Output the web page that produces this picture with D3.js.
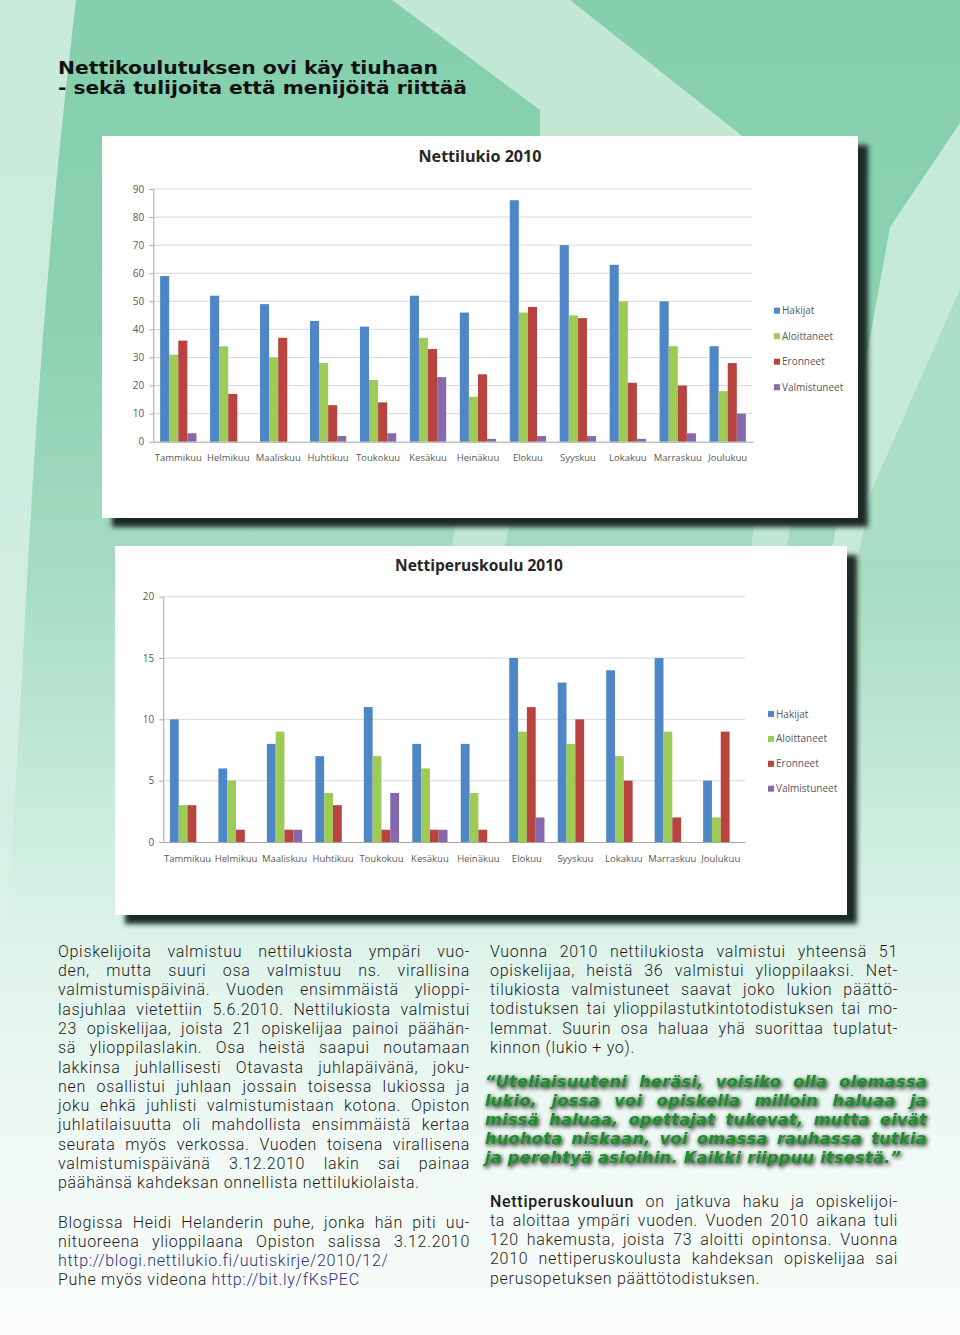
<!DOCTYPE html>
<html>
<head>
<meta charset="utf-8">
<script src="https://cdn.jsdelivr.net/npm/d3@7"></script>
<style>
html, body { margin: 0; padding: 0; background: #fff; }
svg { display: block; }
</style>
</head>
<body>
<svg id="page" width="960" height="1335"></svg>
<script>
// ---- chart data ----
var months = ["Tammikuu", "Helmikuu", "Maaliskuu", "Huhtikuu", "Toukokuu", "Kesäkuu",
              "Heinäkuu", "Elokuu", "Syyskuu", "Lokakuu", "Marraskuu", "Joulukuu"];
var seriesNames = ["Hakijat", "Aloittaneet", "Eronneet", "Valmistuneet"];
var seriesColors = ["#4f86c6", "#9dcb56", "#b8433f", "#8669ad"];

var lukioHakijat      = [59, 52, 49, 43, 41, 52, 46, 86, 70, 63, 50, 34];
var lukioAloittaneet  = [31, 34, 30, 28, 22, 37, 16, 46, 45, 50, 34, 18];
var lukioEronneet     = [36, 17, 37, 13, 14, 33, 24, 48, 44, 21, 20, 28];
var lukioValmistuneet = [3, 0, 0, 2, 3, 23, 1, 2, 2, 1, 3, 10];
var lukioTicks = [0, 10, 20, 30, 40, 50, 60, 70, 80, 90];

var peruskouluHakijat      = [10, 6, 8, 7, 11, 8, 8, 15, 13, 14, 15, 5];
var peruskouluAloittaneet  = [3, 5, 9, 4, 7, 6, 4, 9, 8, 7, 9, 2];
var peruskouluEronneet     = [3, 1, 1, 3, 1, 1, 1, 11, 10, 5, 2, 9];
var peruskouluValmistuneet = [0, 0, 1, 0, 4, 1, 0, 2, 0, 0, 0, 0];
var peruskouluTicks = [0, 5, 10, 15, 20];

// ---- article text, broken as in the printed page ----
var headline = ["Nettikoulutuksen ovi käy tiuhaan", "- sekä tulijoita että menijöitä riittää"];

var leftPara1 = [
    "Opiskelijoita valmistuu nettilukiosta ympäri vuo-",
    "den, mutta suuri osa valmistuu ns. virallisina",
    "valmistumispäivinä. Vuoden ensimmäistä ylioppi-",
    "lasjuhlaa vietettiin 5.6.2010. Nettilukiosta valmistui",
    "23 opiskelijaa, joista 21 opiskelijaa painoi päähän-",
    "sä ylioppilaslakin. Osa heistä saapui noutamaan",
    "lakkinsa juhlallisesti Otavasta juhlapäivänä, joku-",
    "nen osallistui juhlaan jossain toisessa lukiossa ja",
    "joku ehkä juhlisti valmistumistaan kotona. Opiston",
    "juhlatilaisuutta oli mahdollista ensimmäistä kertaa",
    "seurata myös verkossa. Vuoden toisena virallisena",
    "valmistumispäivänä 3.12.2010 lakin sai painaa",
    "päähänsä kahdeksan onnellista nettilukiolaista."
];
var leftPara2 = [
    "Blogissa Heidi Helanderin puhe, jonka hän piti uu-",
    "nituoreena ylioppilaana Opiston salissa 3.12.2010",
    "http://blogi.nettilukio.fi/uutiskirje/2010/12/",
    "Puhe myös videona http://bit.ly/fKsPEC"
];
var rightPara1 = [
    "Vuonna 2010 nettilukiosta valmistui yhteensä 51",
    "opiskelijaa, heistä 36 valmistui ylioppilaaksi. Net-",
    "tilukiosta valmistuneet saavat joko lukion päättö-",
    "todistuksen tai ylioppilastutkintotodistuksen tai mo-",
    "lemmat. Suurin osa haluaa yhä suorittaa tuplatut-",
    "kinnon (lukio + yo)."
];
var quoteLines = [
    "“Uteliaisuuteni heräsi, voisiko olla olemassa",
    "lukio, jossa voi opiskella milloin haluaa ja",
    "missä haluaa, opettajat tukevat, mutta eivät",
    "huohota niskaan, voi omassa rauhassa tutkia",
    "ja perehtyä asioihin. Kaikki riippuu itsestä.”"
];
var rightPara2 = [
    "*Nettiperuskouluun on jatkuva haku ja opiskelijoi-",
    "ta aloittaa ympäri vuoden. Vuoden 2010 aikana tuli",
    "120 hakemusta, joista 73 aloitti opintonsa. Vuonna",
    "2010 nettiperuskoulusta kahdeksan opiskelijaa sai",
    "perusopetuksen päättötodistuksen."
];

var chartFont = "'Open Sans', 'Noto Sans', sans-serif";
var bodyFont = "Roboto, 'Noto Sans', sans-serif";
var linkColor = "#2d2f86";

var svg = d3.select("#page");
var defs = svg.append("defs");


/*
 *** Background: green page with lighter diagonal bands
 */
var bg = defs.append("linearGradient").attr("id", "bgGrad")
    .attr("x1", 0).attr("y1", 0).attr("x2", 0).attr("y2", 1);
[[0, "#84cfad"], [0.25, "#8cd2b3"], [0.42, "#a4dbc2"], [0.6, "#c7ebdb"],
 [0.72, "#e0f4eb"], [0.86, "#f0f9f5"], [1, "#fafdfb"]].forEach(function(s){
    bg.append("stop").attr("offset", s[0]).attr("stop-color", s[1]);
});
var stripGrad = defs.append("linearGradient").attr("id", "stripGrad")
    .attr("x1", 0).attr("y1", 0).attr("x2", 0).attr("y2", 1);
stripGrad.append("stop").attr("offset", 0).attr("stop-color", "#c9eadb").attr("stop-opacity", 1);
stripGrad.append("stop").attr("offset", 0.7).attr("stop-color", "#d6f0e4").attr("stop-opacity", 0.9);
stripGrad.append("stop").attr("offset", 1).attr("stop-color", "#e8f6ef").attr("stop-opacity", 0);

svg.append("rect").attr("width", 960).attr("height", 1335).attr("fill", "url(#bgGrad)");

svg.append("path")
    .attr("d", "M0,0 L76,0 C62,120 42,300 26,600 C18,760 10,880 0,1000 Z")
    .attr("fill", "url(#stripGrad)");

var bands = [
    {pts: [[392, 0], [570, 0], [760, 150], [540, 150], [540, 110]], fill: "#c3e8d6"},
    {pts: [[890, 227], [960, 123], [960, 290], [872, 490], [858, 560], [830, 560]], fill: "#c6eada"},
    {pts: [[960, 290], [960, 560], [858, 560], [872, 490]], fill: "#abdec7"},
    {pts: [[456, 518], [511, 518], [505, 546], [452, 546]], fill: "#bde6d3"},
    {pts: [[755, 518], [792, 518], [787, 546], [751, 546]], fill: "#bde6d3"}
];
svg.append("g").selectAll("polygon").data(bands).join("polygon")
    .attr("points", function(d){ return d.pts.map(function(p){ return p.join(","); }).join(" "); })
    .attr("fill", function(d){ return d.fill; });


/*
 *** Headline
 */
var headG = svg.append("g")
    .attr("font-family", "'DejaVu Sans Condensed', 'Liberation Sans Narrow', 'DejaVu Sans', sans-serif")
    .attr("font-weight", "bold")
    .attr("font-size", 17.1)
    .attr("fill", "#111");
headG.append("text").attr("x", 58).attr("y", 74).attr("textLength", 380)
    .attr("lengthAdjust", "spacingAndGlyphs").text(headline[0]);
headG.append("text").attr("x", 58).attr("y", 94).attr("textLength", 409)
    .attr("lengthAdjust", "spacingAndGlyphs").text(headline[1]);


/*
 *** Grouped bar chart in a white panel with a dark drop shadow
 */
defs.append("filter").attr("id", "panelBlur").attr("x", "-5%").attr("y", "-5%")
    .attr("width", "110%").attr("height", "110%")
    .append("feGaussianBlur").attr("stdDeviation", 2.5);

function drawChart(cfg){
    var g = svg.append("g");
    var p = cfg.panel, pl = cfg.plot;

    g.append("rect")
        .attr("x", p.x + 10).attr("y", p.y + 9)
        .attr("width", p.w).attr("height", p.h)
        .attr("fill", "#1c2a26")
        .attr("filter", "url(#panelBlur)");
    g.append("rect")
        .attr("x", p.x).attr("y", p.y)
        .attr("width", p.w).attr("height", p.h)
        .attr("fill", "#fff");

    var x = d3.scaleBand().domain(months).range([pl.left, pl.right]);
    var xs = d3.scaleBand().domain(seriesNames).range([0, x.bandwidth()])
        .paddingInner(0).paddingOuter(0.75);
    var y = d3.scaleLinear().domain([0, d3.max(cfg.ticks)]).range([pl.bottom, pl.top]);
    var color = d3.scaleOrdinal().domain(seriesNames).range(seriesColors);

    // gridlines
    g.append("g").selectAll("line")
        .data(cfg.ticks.filter(function(t){ return t > 0; }))
        .join("line")
        .attr("x1", pl.left).attr("x2", pl.right)
        .attr("y1", function(d){ return y(d); })
        .attr("y2", function(d){ return y(d); })
        .attr("stroke", "#d9d9d9");

    // value axis
    var yAxis = g.append("g")
        .attr("transform", "translate(" + pl.left + ",0)")
        .call(d3.axisLeft(y).tickValues(cfg.ticks).tickSize(4).tickSizeOuter(0).tickPadding(5));
    yAxis.select(".domain").attr("stroke", "#a6a6a6");
    yAxis.selectAll(".tick line").attr("stroke", "#a6a6a6");
    yAxis.selectAll("text")
        .attr("font-family", chartFont).attr("font-size", 10).attr("fill", "#595959");

    // bars
    var flat = [];
    months.forEach(function(m, i){
        seriesNames.forEach(function(s, j){
            flat.push({month: m, series: s, value: cfg.series[j][i]});
        });
    });
    g.append("g").selectAll("rect")
        .data(flat.filter(function(d){ return d.value > 0; }))
        .join("rect")
        .attr("x", function(d){ return x(d.month) + xs(d.series); })
        .attr("width", xs.bandwidth())
        .attr("y", function(d){ return y(d.value); })
        .attr("height", function(d){ return y(0) - y(d.value); })
        .attr("fill", function(d){ return color(d.series); });

    // category axis
    var xAxis = g.append("g")
        .attr("transform", "translate(0," + pl.bottom + ")")
        .call(d3.axisBottom(x).tickSize(0).tickSizeOuter(0).tickPadding(13));
    xAxis.select(".domain").attr("stroke", "#a6a6a6");
    xAxis.selectAll("text")
        .attr("font-family", chartFont).attr("font-size", 9.5).attr("fill", "#595959");

    // title
    g.append("text")
        .attr("x", cfg.titleX).attr("y", cfg.titleY)
        .attr("text-anchor", "middle")
        .attr("font-family", chartFont).attr("font-weight", "bold")
        .attr("font-size", 16).attr("fill", "#262626")
        .attr("textLength", cfg.titleWidth).attr("lengthAdjust", "spacingAndGlyphs")
        .text(cfg.title);

    // legend
    var leg = g.append("g").selectAll("g").data(seriesNames).join("g")
        .attr("transform", function(d, i){
            return "translate(" + cfg.legendX + "," + (cfg.legendY + i * cfg.legendStep) + ")";
        });
    leg.append("rect").attr("x", 0).attr("y", -3).attr("width", 6).attr("height", 6)
        .attr("fill", function(d){ return color(d); });
    leg.append("text").attr("x", 8).attr("dy", "0.35em")
        .attr("font-family", chartFont).attr("font-size", 10).attr("fill", "#595959")
        .text(function(d){ return d; });
}

drawChart({
    title: "Nettilukio 2010", titleX: 480, titleY: 162, titleWidth: 123,
    panel: {x: 102, y: 136, w: 756, h: 382},
    plot: {left: 153.3, right: 752.7, top: 189, bottom: 441.7},
    ticks: lukioTicks,
    series: [lukioHakijat, lukioAloittaneet, lukioEronneet, lukioValmistuneet],
    legendX: 774, legendY: 310.7, legendStep: 25.5
});

drawChart({
    title: "Nettiperuskoulu 2010", titleX: 479, titleY: 570.5, titleWidth: 168,
    panel: {x: 115, y: 546, w: 732, h: 369},
    plot: {left: 163.3, right: 745, top: 596.7, bottom: 842},
    ticks: peruskouluTicks,
    series: [peruskouluHakijat, peruskouluAloittaneet, peruskouluEronneet, peruskouluValmistuneet],
    legendX: 768, legendY: 714, legendStep: 24.9
});


/*
 *** Justified text columns: words placed one by one so each line fills the column
 */
function textBlock(lines, o){
    var g = svg.append("g")
        .attr("font-family", o.family)
        .attr("font-size", o.size)
        .attr("font-weight", o.weight || "normal")
        .attr("font-style", o.style || "normal")
        .attr("letter-spacing", o.spacing || 0)
        .attr("fill", o.fill);
    if(o.filter){ g.attr("filter", o.filter); }

    var p1 = g.append("text").text("a a"), p2 = g.append("text").text("aa");
    var spaceW = p1.node().getComputedTextLength() - p2.node().getComputedTextLength();
    p1.remove(); p2.remove();

    var justifyCount = (o.justify === undefined) ? lines.length - 1 : o.justify;
    var width = o.x1 - o.x0;

    lines.forEach(function(line, i){
        var words = line.split(" ");
        var t = g.append("text").attr("y", o.y0 + i * o.dy);
        var spans = words.map(function(w){
            var s = t.append("tspan").text(w.replace(/^\*/, ""));
            if(w.charAt(0) === "*"){ s.attr("font-weight", "500"); }
            if(w.indexOf("http") === 0){ s.attr("fill", linkColor); }
            return s;
        });
        var widths = spans.map(function(s){ return s.node().getComputedTextLength(); });
        var total = d3.sum(widths);
        var gap = spaceW, scale = 1;
        if(i < justifyCount && words.length > 1){
            gap = (width - total) / (words.length - 1);
            if(gap < spaceW * 0.5){
                gap = spaceW * 0.5;
                scale = width / (total + gap * (words.length - 1));
            }
        }
        var cx = o.x0;
        spans.forEach(function(s, k){
            s.attr("x", cx);
            cx += widths[k] + gap;
        });
        if(scale !== 1){
            t.attr("transform", "translate(" + o.x0 + ",0) scale(" + scale + ",1) translate(" + (-o.x0) + ",0)");
        }
    });
}

var bodyStyle = {family: bodyFont, size: 16, weight: 300, spacing: 0.7, fill: "#1e1b1c"};

textBlock(leftPara1, Object.assign({x0: 58, x1: 470, y0: 956.7, dy: 19.3}, bodyStyle));
textBlock(leftPara2, Object.assign({x0: 58, x1: 470, y0: 1227.5, dy: 19.1, justify: 2}, bodyStyle));
textBlock(rightPara1, Object.assign({x0: 490, x1: 898, y0: 956.7, dy: 19.2}, bodyStyle));
textBlock(rightPara2, Object.assign({x0: 490, x1: 898, y0: 1206.7, dy: 19.2}, bodyStyle));

var qf = defs.append("filter").attr("id", "quoteShadow")
    .attr("x", "-5%").attr("y", "-20%").attr("width", "110%").attr("height", "150%");
qf.append("feDropShadow").attr("dx", 1.2).attr("dy", 1.8).attr("stdDeviation", 2)
    .attr("flood-color", "#0d0d0d").attr("flood-opacity", 1);

textBlock(quoteLines, {
    x0: 485, x1: 927, y0: 1087, dy: 19,
    family: "'DejaVu Sans', Verdana, sans-serif", size: 16.3, spacing: 0.2,
    weight: "bold", style: "italic", fill: "#1f8d2b",
    filter: "url(#quoteShadow)"
});
</script>
</body>
</html>
